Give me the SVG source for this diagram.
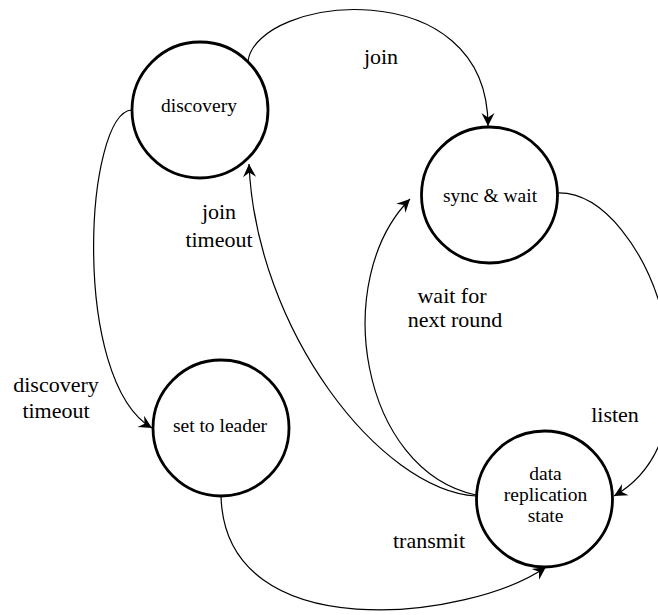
<svg xmlns="http://www.w3.org/2000/svg" width="658" height="615" viewBox="0 0 658 615">
  <style>
    .state { fill: #ffffff; stroke: #000000; stroke-width: 2.8; }
    .node-label { font-family: 'Liberation Serif', serif; font-size: 19.5px; fill: #000000; text-anchor: middle; }
    .edge { fill: none; stroke: #000000; stroke-width: 1.2; marker-end: url(#stealth); }
    .edge-label { font-family: 'Liberation Serif', serif; font-size: 22px; fill: #000000; text-anchor: middle; }
  </style>
  <defs>
    <marker id="stealth" markerUnits="userSpaceOnUse" viewBox="-14 -8 16 16" markerWidth="16" markerHeight="16" refX="0" refY="0" orient="auto" overflow="visible">
      <path d="M0,0 L-13,-6.5 L-8.5,0 L-13,6.5 Z" fill="#000000"/>
    </marker>
  </defs>
  <rect width="658" height="615" fill="#ffffff"/>

  <!-- transitions -->
  <g id="connectors">
    <path id="e-join" class="edge" d="M248,61 C258,-5 488,-30 488,126"/>
    <path id="e-discovery-timeout" class="edge" d="M132,110 C85,112 70,380 152,428"/>
    <path id="e-join-timeout" class="edge" d="M476,496 C380,490 256,330 249,164"/>
    <path id="e-wait" class="edge" d="M476,495 C360,470 330,280 410,199"/>
    <path id="e-listen" class="edge" d="M557,193 C650,190 730,430 614,496"/>
    <path id="e-transmit" class="edge" d="M221,496 C225,650 470,620 546,567"/>
  </g>

  <!-- edge labels -->
  <g id="edge-labels" font-family="Liberation Serif">
    <text class="edge-label" x="381" y="64">join</text>
    <text class="edge-label" x="219" y="219">join</text>
    <text class="edge-label" x="219" y="247">timeout</text>
    <text class="edge-label" x="452" y="303">wait for</text>
    <text class="edge-label" x="455" y="327">next round</text>
    <text class="edge-label" x="56" y="392">discovery</text>
    <text class="edge-label" x="56" y="418">timeout</text>
    <text class="edge-label" x="615" y="422">listen</text>
    <text class="edge-label" x="429" y="548">transmit</text>
  </g>

  <!-- states -->
  <g id="discovery" font-family="Liberation Serif">
    <circle class="state" cx="200" cy="110" r="68"/>
    <text class="node-label" x="199" y="112">discovery</text>
  </g>
  <g id="sync-wait" font-family="Liberation Serif">
    <circle class="state" cx="489.5" cy="195" r="68"/>
    <text class="node-label" x="490" y="202">sync &amp; wait</text>
  </g>
  <g id="set-to-leader" font-family="Liberation Serif">
    <circle class="state" cx="221" cy="428" r="68"/>
    <text class="node-label" x="220" y="432">set to leader</text>
  </g>
  <g id="data-replication" font-family="Liberation Serif">
    <circle class="state" cx="544.5" cy="499" r="68"/>
    <text class="node-label" x="545.5" y="480">data</text>
    <text class="node-label" x="545.5" y="501">replication</text>
    <text class="node-label" x="545.5" y="522">state</text>
  </g>
</svg>
